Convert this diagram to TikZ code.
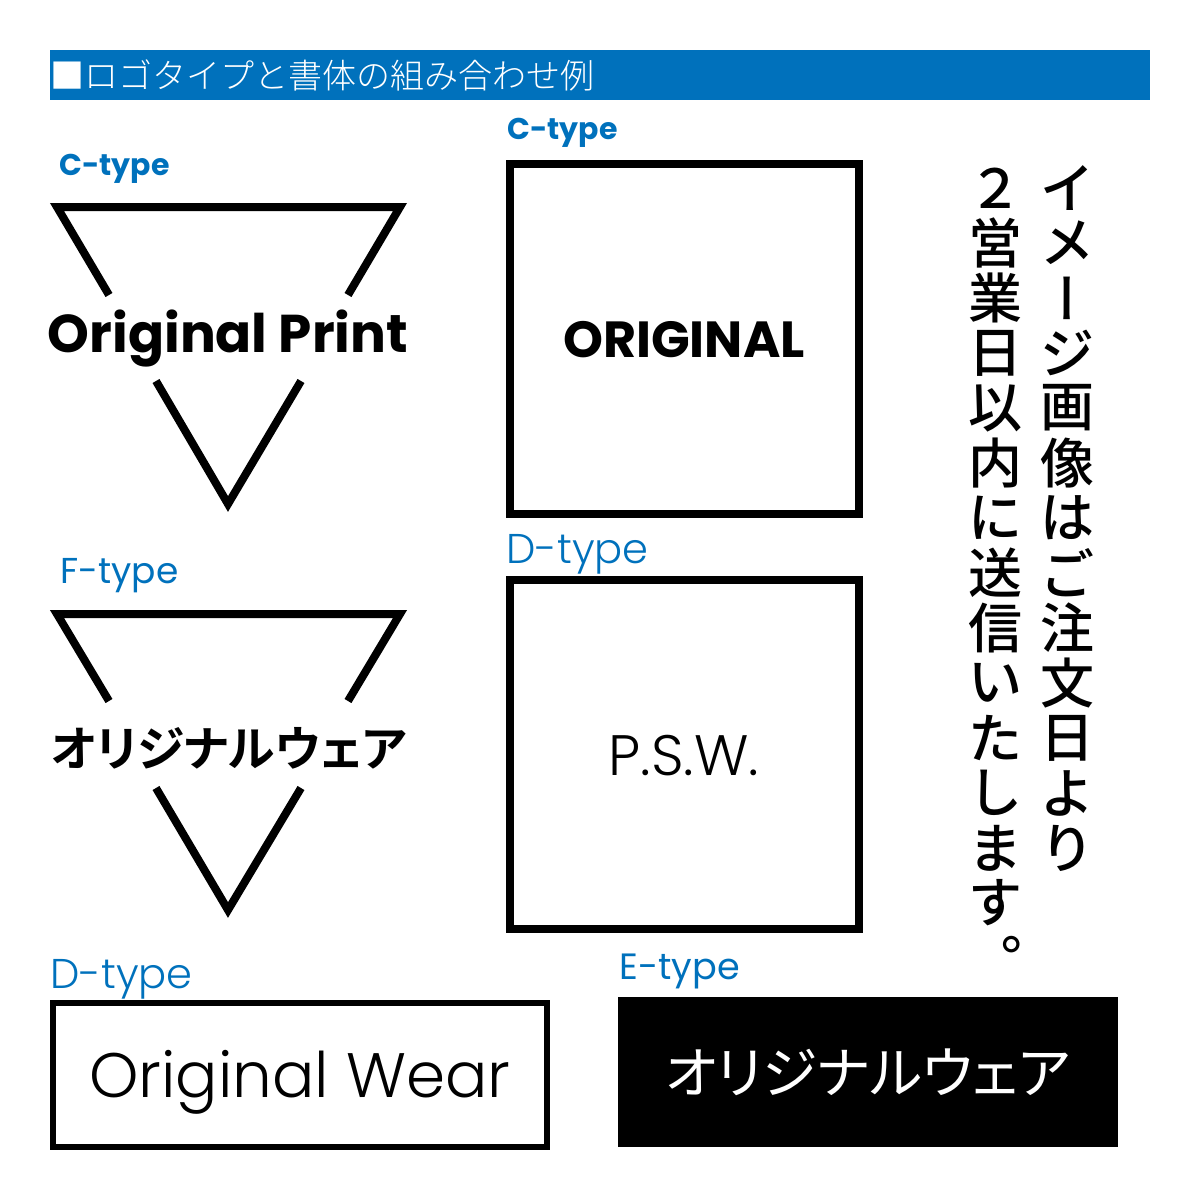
\documentclass[tikz,border=0pt]{standalone}
\usepackage{fontspec}
\usepackage{xcolor}
\setmainfont{Poppins}
\newfontfamily\cjkfont[UprightFont=* Medium]{Noto Sans CJK JP}
\newfontfamily\cjklightfont[UprightFont=* Light]{Noto Sans CJK JP}
\newfontfamily\cjkboldfont[UprightFont=* Bold,RawFeature={+palt}]{Noto Sans CJK JP}
\newfontfamily\cjkpaltfont[RawFeature={+palt}]{Noto Sans CJK JP}
\newfontfamily\cjkvertfont[UprightFont=* Medium,RawFeature={+vert}]{Noto Sans CJK JP}
\newfontfamily\futurafont[UprightFont=* Bold]{Poppins}
\newfontfamily\lightfont[UprightFont=* Light]{Poppins}
\definecolor{ColBlue}{RGB}{0,113,188}
\tikzstyle{FrameBox}=[draw=black,line width=3pt,fill=none]
\tikzstyle{FrameBoxThick}=[draw=black,line width=3.75pt,fill=none]
\tikzstyle{TypeLabel}=[text=ColBlue,inner sep=0pt,anchor=west]
\tikzstyle{LogoLine}=[black,line width=4pt,line cap=butt,line join=miter]
\tikzstyle{VertChar}=[inner sep=0pt,font=\cjkfont\fontsize{27}{27}\selectfont]
\begin{document}
\begin{tikzpicture}[x=0.5pt,y=-0.5pt]
        \useasboundingbox(0,0)rectangle(1200,1200);
        % header bar
        \fill[ColBlue](50,50)rectangle(1150,100);
        \node[inner sep=0pt,anchor=west,text=white,font=\cjklightfont\fontsize{17}{17}\selectfont](title)at(50,75){■ロゴタイプと書体の組み合わせ例};
        % left column
        \node[TypeLabel,font=\futurafont\fontsize{15}{15}\selectfont](labelA)at(59,169){C-type};
        \draw[LogoLine](109,295)--(57,207)--(400,207)--(348,295);
        \draw[LogoLine](156,381)--(228,504)--(301,381);
        \node[inner sep=0pt,font=\futurafont\fontsize{26.6}{26.6}\selectfont](logoA)at(228,339){Original Print};
        \node[TypeLabel,font=\fontsize{18}{18}\selectfont](labelB)at(60,576){F-type};
        \draw[LogoLine](109,701)--(57,614)--(400,614)--(348,701);
        \draw[LogoLine](156,788)--(228,910)--(301,788);
        \node[inner sep=0pt,font=\cjkboldfont\fontsize{23.9}{23.9}\selectfont](logoB)at(229,748){オリジナルウェア};
        % right boxes
        \node[TypeLabel,font=\futurafont\fontsize{15}{15}\selectfont](labelC)at(507,133){C-type};
        \draw[FrameBoxThick](510,164)rectangle(859,514);
        \node[inner sep=0pt,font=\futurafont\fontsize{25.4}{25.4}\selectfont](logoC)at(684,340){ORIGINAL};
        \node[TypeLabel,font=\lightfont\fontsize{20.8}{20.8}\selectfont](labelD)at(506,554){D-type};
        \draw[FrameBoxThick](510,580)rectangle(859,929);
        \node[inner sep=0pt,font=\lightfont\fontsize{28.5}{28.5}\selectfont](logoD)at(684,756){P.S.W.};
        % bottom
        \node[TypeLabel,font=\lightfont\fontsize{20.8}{20.8}\selectfont](labelE)at(50,979){D-type};
        \draw[FrameBox](53,1003)rectangle(547,1147);
        \node[inner sep=0pt,font=\lightfont\fontsize{31.4}{31.4}\selectfont](logoE)at(300,1082){Original Wear};
        \node[TypeLabel,font=\fontsize{18.3}{18.3}\selectfont](labelF)at(619,971){E-type};
        \fill[black](618,997)rectangle(1118,1147);
        \node[inner sep=0pt,text=white,font=\cjkpaltfont\fontsize{27.9}{27.9}\selectfont](logoF)at(868,1072){オリジナルウェア};
        % vertical text
        \foreach \ch [count=\i from 0] in {イ,メ,{\cjkvertfont ー},ジ,画,像,は,ご,注,文,日,よ,り}{
            \node[VertChar](one\i)at(1067,{188+55*\i}){\ch};
        }
        \foreach \ch [count=\i from 0] in {２,営,業,日,以,内,に,送,信,い,た,し,ま,す,{\cjkvertfont 。}}{
            \node[VertChar](two\i)at(995,{188+55*\i}){\ch};
        }
    \end{tikzpicture}
\end{document}
